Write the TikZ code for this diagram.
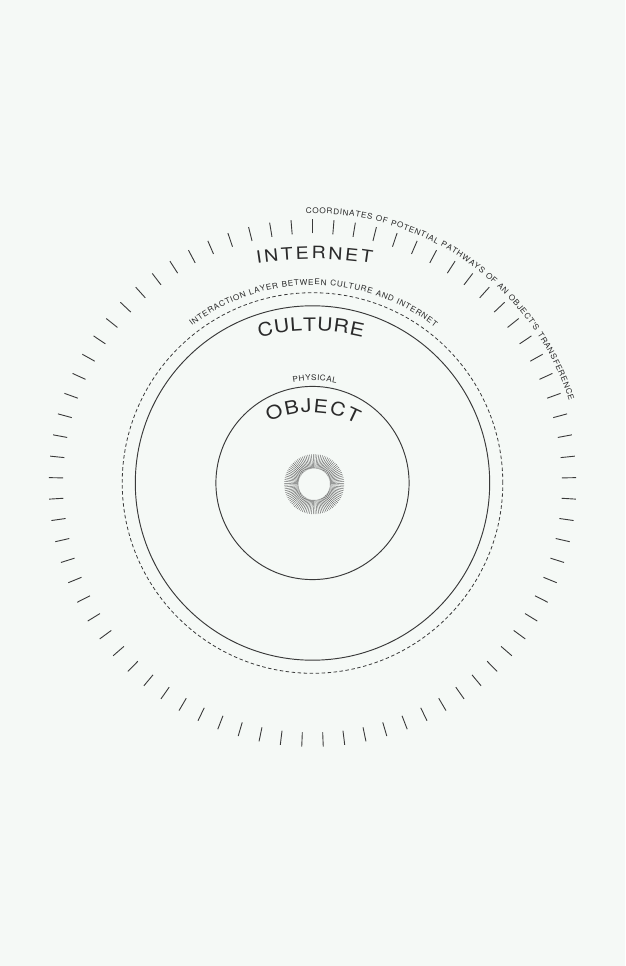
\documentclass[tikz,border=0pt]{standalone}
\usepackage{fontspec}
\newfontfamily\hv{TeX Gyre Heros}
\newcommand\bigf{\hv\fontsize{18.5pt}{18.5pt}\selectfont}
\newcommand\intf{\hv\fontsize{17pt}{17pt}\selectfont}
\newcommand\smallf{\hv\fontsize{7.8pt}{7.8pt}\selectfont}
\definecolor{bg}{RGB}{245,249,246}
\definecolor{ink}{RGB}{42,42,42}
\definecolor{linec}{RGB}{58,58,58}
\newdimen\ArcW
% measure (outside the picture): #1 name, #2 xscale, #3 font, #4 chars
\newcommand\ArcPrep[4]{%
  \gdef\ArcTot{0}\gdef\ArcN{0}%
  \foreach \ch [count=\i] in {#4}{%
    \setbox0=\hbox{#3\ch}\ArcW=#2\wd0\relax
    \pgfmathparse{\the\ArcW}\expandafter\xdef\csname AW#1-\i\endcsname{\pgfmathresult}%
    \pgfmathparse{\ArcTot+\the\ArcW}\xdef\ArcTot{\pgfmathresult}%
    \xdef\ArcN{\i}%
  }%
  \expandafter\xdef\csname AT#1\endcsname{\ArcTot}%
  \expandafter\xdef\csname AN#1\endcsname{\ArcN}%
  \expandafter\xdef\csname AS#1\endcsname{#2}%
}
% draw: #1 name, #2 cx, #3 cy, #4 baseline radius, #5 start angle, #6 end angle, #7 font, #8 chars
\newcommand\ArcFit[8]{%
  \edef\ArcTot{\csname AT#1\endcsname}\edef\ArcN{\csname AN#1\endcsname}\edef\ArcXS{\csname AS#1\endcsname}%
  \pgfmathsetmacro\ArcLen{(#5-#6)*(pi/180)*#4}%
  \pgfmathsetmacro\ArcTrack{(\ArcLen-\ArcTot)/(\ArcN-1)}%
  \xdef\ArcTrk{\ArcTrack}%
  \xdef\ArcCur{#5}%
  \foreach \ch [count=\i] in {#8}{%
    \edef\ArcWn{\csname AW#1-\i\endcsname}%
    \pgfmathsetmacro\ArcMid{\ArcCur-(\ArcWn/2)/#4*(180/pi)}%
    \pgfmathsetmacro\ArcRot{\ArcMid-90}%
    \pgfmathsetmacro\ArcX{#2+#4*cos(\ArcMid)}%
    \pgfmathsetmacro\ArcY{#3+#4*sin(\ArcMid)}%
    \node[name=#1-\i, rotate=\ArcRot, xscale=\ArcXS, anchor=base, inner sep=0pt, text=ink, font=#7] at (\ArcX,\ArcY) {\ch};
    \pgfmathparse{\ArcCur-(\ArcWn+\ArcTrk)/#4*(180/pi)}\xdef\ArcCur{\pgfmathresult}%
  }%
}
\tikzset{
  ring/.style={draw=linec, line width=0.95pt},
  dashring/.style={draw=linec, line width=0.8pt, dash pattern=on 3.5pt off 2.5pt},
  tickmark/.style={draw=linec, line width=0.9pt},
  spoke/.style={draw=black!60, line width=0.45pt},
}
\begin{document}
\ArcPrep{tint}{1.15}{\intf}{I,N,T,E,R,N,E,T}%
\ArcPrep{tcul}{1.15}{\bigf}{C,U,L,T,U,R,E}%
\ArcPrep{tobj}{1.15}{\bigf}{O,B,J,E,C,T}%
\ArcPrep{tphy}{1.05}{\smallf}{P,H,Y,S,I,C,A,L}%
\ArcPrep{tlay}{1.05}{\smallf}{I,N,T,E,R,A,C,T,I,O,N,~,L,A,Y,E,R,~,B,E,T,W,E,E,N,~,C,U,L,T,U,R,E,~,A,N,D,~,I,N,T,E,R,N,E,T}%
\ArcPrep{tcoo}{1.05}{\smallf}{C,O,O,R,D,I,N,A,T,E,S,~,O,F,~,P,O,T,E,N,T,I,A,L,~,P,A,T,H,W,A,Y,S,~,O,F,~,A,N,~,O,B,J,E,C,T,',S,~,T,R,A,N,S,F,E,R,E,N,C,E}%
\begin{tikzpicture}[x=1pt,y=1pt]
\fill[bg] (-312.5,-483) rectangle (312.5,483);
\useasboundingbox (-312.5,-483) rectangle (312.5,483);
% ticks
\foreach \k in {0,...,76}{
  \pgfmathsetmacro\ta{90+\k*(360/77)}
  \draw[tickmark] (\ta:249.5) -- (\ta:263.8);
}
% circles
\draw[ring] (0,0) circle[radius=177.2];
\draw[ring] (0,0) circle[radius=96.6];
\draw[dashring] (0,0) circle[radius=190.3];
% sunburst
\begin{scope}[shift={(1.7,-1.2)}]
\foreach \k in {0,...,99}{
  \pgfmathsetmacro\sa{1.8+\k*3.6}
  \draw[spoke] (\sa:15.8) -- (\sa:30);
}
\end{scope}
% texts
\ArcFit{tint}{0.5}{-150}{374}{98.6}{80.9}{\intf}{I,N,T,E,R,N,E,T}
\ArcFit{tcul}{-1.2}{-63.5}{215.5}{104.0}{76.2}{\bigf}{C,U,L,T,U,R,E}
\ArcFit{tobj}{-1.5}{-22.8}{93.5}{116.6}{60.8}{\bigf}{O,B,J,E,C,T}
\ArcFit{tphy}{1.3}{0}{102.5}{101.6}{77.3}{\smallf}{P,H,Y,S,I,C,A,L}
\ArcFit{tlay}{0}{0}{198}{127.5}{51.8}{\smallf}{I,N,T,E,R,A,C,T,I,O,N,~,L,A,Y,E,R,~,B,E,T,W,E,E,N,~,C,U,L,T,U,R,E,~,A,N,D,~,I,N,T,E,R,N,E,T}
\ArcFit{tcoo}{0}{0}{269.5}{91.4}{17.7}{\smallf}{C,O,O,R,D,I,N,A,T,E,S,~,O,F,~,P,O,T,E,N,T,I,A,L,~,P,A,T,H,W,A,Y,S,~,O,F,~,A,N,~,O,B,J,E,C,T,',S,~,T,R,A,N,S,F,E,R,E,N,C,E}
\end{tikzpicture}
\end{document}
